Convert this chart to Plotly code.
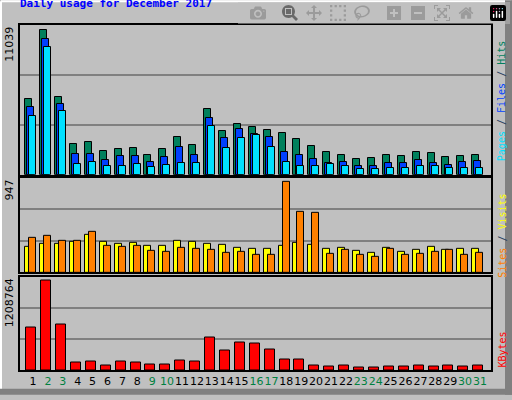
import plotly.graph_objects as go
from plotly.subplots import make_subplots

days = list(range(1, 32))
hits = [5794, 11039, 5944, 2348, 2497, 1823, 1973, 2048, 1523, 1973, 2872, 2273, 5045, 3322, 3846,
        3621, 3397, 3172, 2722, 2198, 1748, 1523, 1224, 1299, 1523, 1449, 1748, 1673, 1374, 1449, 1523]
files = [5195, 10365, 5420, 1598, 1598, 1149, 1449, 1449, 999, 1374, 2123, 1523, 4296, 2797, 3471,
         3097, 2872, 1748, 1523, 1224, 924, 999, 699, 699, 924, 924, 1149, 924, 774, 999, 1074]
pages = [4445, 9765, 4895, 849, 999, 699, 699, 849, 624, 774, 924, 924, 3696, 2048, 2797,
         3022, 2123, 999, 699, 699, 849, 699, 474, 474, 549, 549, 699, 699, 549, 549, 549]
sites = [268, 298, 298, 319, 391, 319, 298, 309, 278, 278, 329, 319, 298, 288, 257,
         247, 247, 278, 309, 288, 247, 257, 226, 206, 257, 216, 237, 268, 237, 247, 247]
visits = [360, 381, 329, 329, 422, 278, 268, 278, 226, 216, 257, 247, 237, 206, 216,
          185, 185, 947, 638, 628, 196, 237, 185, 165, 247, 185, 196, 216, 237, 185, 206]
kbytes = [571000, 1208764, 611000, 106000, 120000, 66000, 120000, 106000, 80000, 80000, 133000, 120000,
          438000, 266000, 372000, 359000, 279000, 146000, 146000, 66000, 53000, 66000, 40000, 40000,
          53000, 53000, 66000, 53000, 66000, 53000, 66000]
weekend = [2, 3, 9, 10, 16, 17, 23, 24, 30, 31]

BG = "#C0C0C0"
fig = make_subplots(rows=3, cols=1, shared_xaxes=True, vertical_spacing=0.0,
                    row_heights=[152, 96, 95])

def bar(y, color, off, w, row):
    fig.add_trace(go.Bar(x=days, y=y, offset=off, width=w, marker_color=color,
                         marker_line_color="black", marker_line_width=1, hoverinfo="skip"),
                  row=row, col=1)

bar(hits, "#00805C", -0.52, 0.47, 1)
bar(files, "#0040FF", -0.38, 0.47, 1)
bar(pages, "#00E0FF", -0.25, 0.47, 1)
bar(sites, "#FFFF00", -0.52, 0.47, 2)
bar(visits, "#FF8000", -0.25, 0.47, 2)
bar(kbytes, "#FF0000", -0.45, 0.67, 3)

ranges = [11414, 991, 1265900]
doms = [[0.566, 1.0], [0.283, 0.557], [0.0, 0.271]]
for i, r in enumerate(ranges):
    fig.update_yaxes(range=[0, r], tickvals=[r / 3, 2 * r / 3], showticklabels=False,
                     showgrid=True, gridcolor="#808080", gridwidth=1.5, zeroline=False,
                     showline=True, mirror=True, linecolor="black", linewidth=2,
                     domain=doms[i], row=i + 1, col=1)
    fig.update_xaxes(range=[0.128, 31.74], showgrid=False, zeroline=False, showline=True,
                     mirror=True, linecolor="black", linewidth=2, row=i + 1, col=1)

ticktext = [f'<span style="color:{"#008040" if d in weekend else "black"}">{d}</span>' for d in days]
fig.update_xaxes(tickvals=days, ticktext=ticktext, ticks="", tickangle=0,
                 tickfont=dict(size=11, family="DejaVu Sans"), row=3, col=1)

mono = "DejaVu Sans Mono"
anns = [
    dict(x=-0.005, y=1.0, text="11039", textangle=-90, xanchor="right", yanchor="top"),
    dict(x=-0.005, y=0.557, text="947", textangle=-90, xanchor="right", yanchor="top"),
    dict(x=-0.005, y=0.271, text="1208764", textangle=-90, xanchor="right", yanchor="top"),
]
for a in anns:
    fig.add_annotation(xref="paper", yref="paper", showarrow=False,
                       font=dict(size=11, family="DejaVu Sans", color="black"), **a)

def side(text, y):
    fig.add_annotation(xref="paper", yref="paper", x=1.008, y=y, xanchor="left", yanchor="middle",
                       text=text, textangle=-90, showarrow=False,
                       font=dict(size=10, family=mono))

side('<span style="color:#00E0FF">Pages</span> / <span style="color:#0040FF">Files</span> / '
     '<span style="color:#00805C">Hits</span>', 0.78)
side('<span style="color:#FF8000">Sites</span> / <span style="color:#FFFF00">Visits</span>', 0.39)
side('<span style="color:#FF0000">KBytes</span>', 0.06)

fig.add_annotation(xref="paper", yref="paper", x=-0.004, y=1.062, xanchor="left", yanchor="middle",
                   text="<b>Daily usage for December 2017</b>", showarrow=False,
                   font=dict(size=11, family=mono, color="#0000FF"))

def px(x): return (x - 20) / 471
def py(y): return (375 - y) / 350
fig.add_shape(type="line", xref="paper", yref="paper", x0=px(1), x1=px(1), y0=py(399), y1=py(1),
              line=dict(color="white", width=2))
fig.add_shape(type="line", xref="paper", yref="paper", x0=px(1), x1=px(511), y0=py(1), y1=py(1),
              line=dict(color="white", width=2))
fig.add_shape(type="rect", xref="paper", yref="paper", x0=px(505), x1=px(512), y0=py(400), y1=py(0),
              line_width=0, fillcolor="#808080")
fig.add_shape(type="rect", xref="paper", yref="paper", x0=px(0), x1=px(512), y0=py(400), y1=py(394),
              line_width=0, fillcolor="#808080")

fig.update_layout(width=512, height=400, margin=dict(l=20, r=21, t=25, b=25),
                  paper_bgcolor=BG, plot_bgcolor=BG, showlegend=False, barmode="overlay",
                  bargap=0)
fig.write_html("out.html", post_script="document.body.style.margin='0';document.body.style.overflow='hidden';")
